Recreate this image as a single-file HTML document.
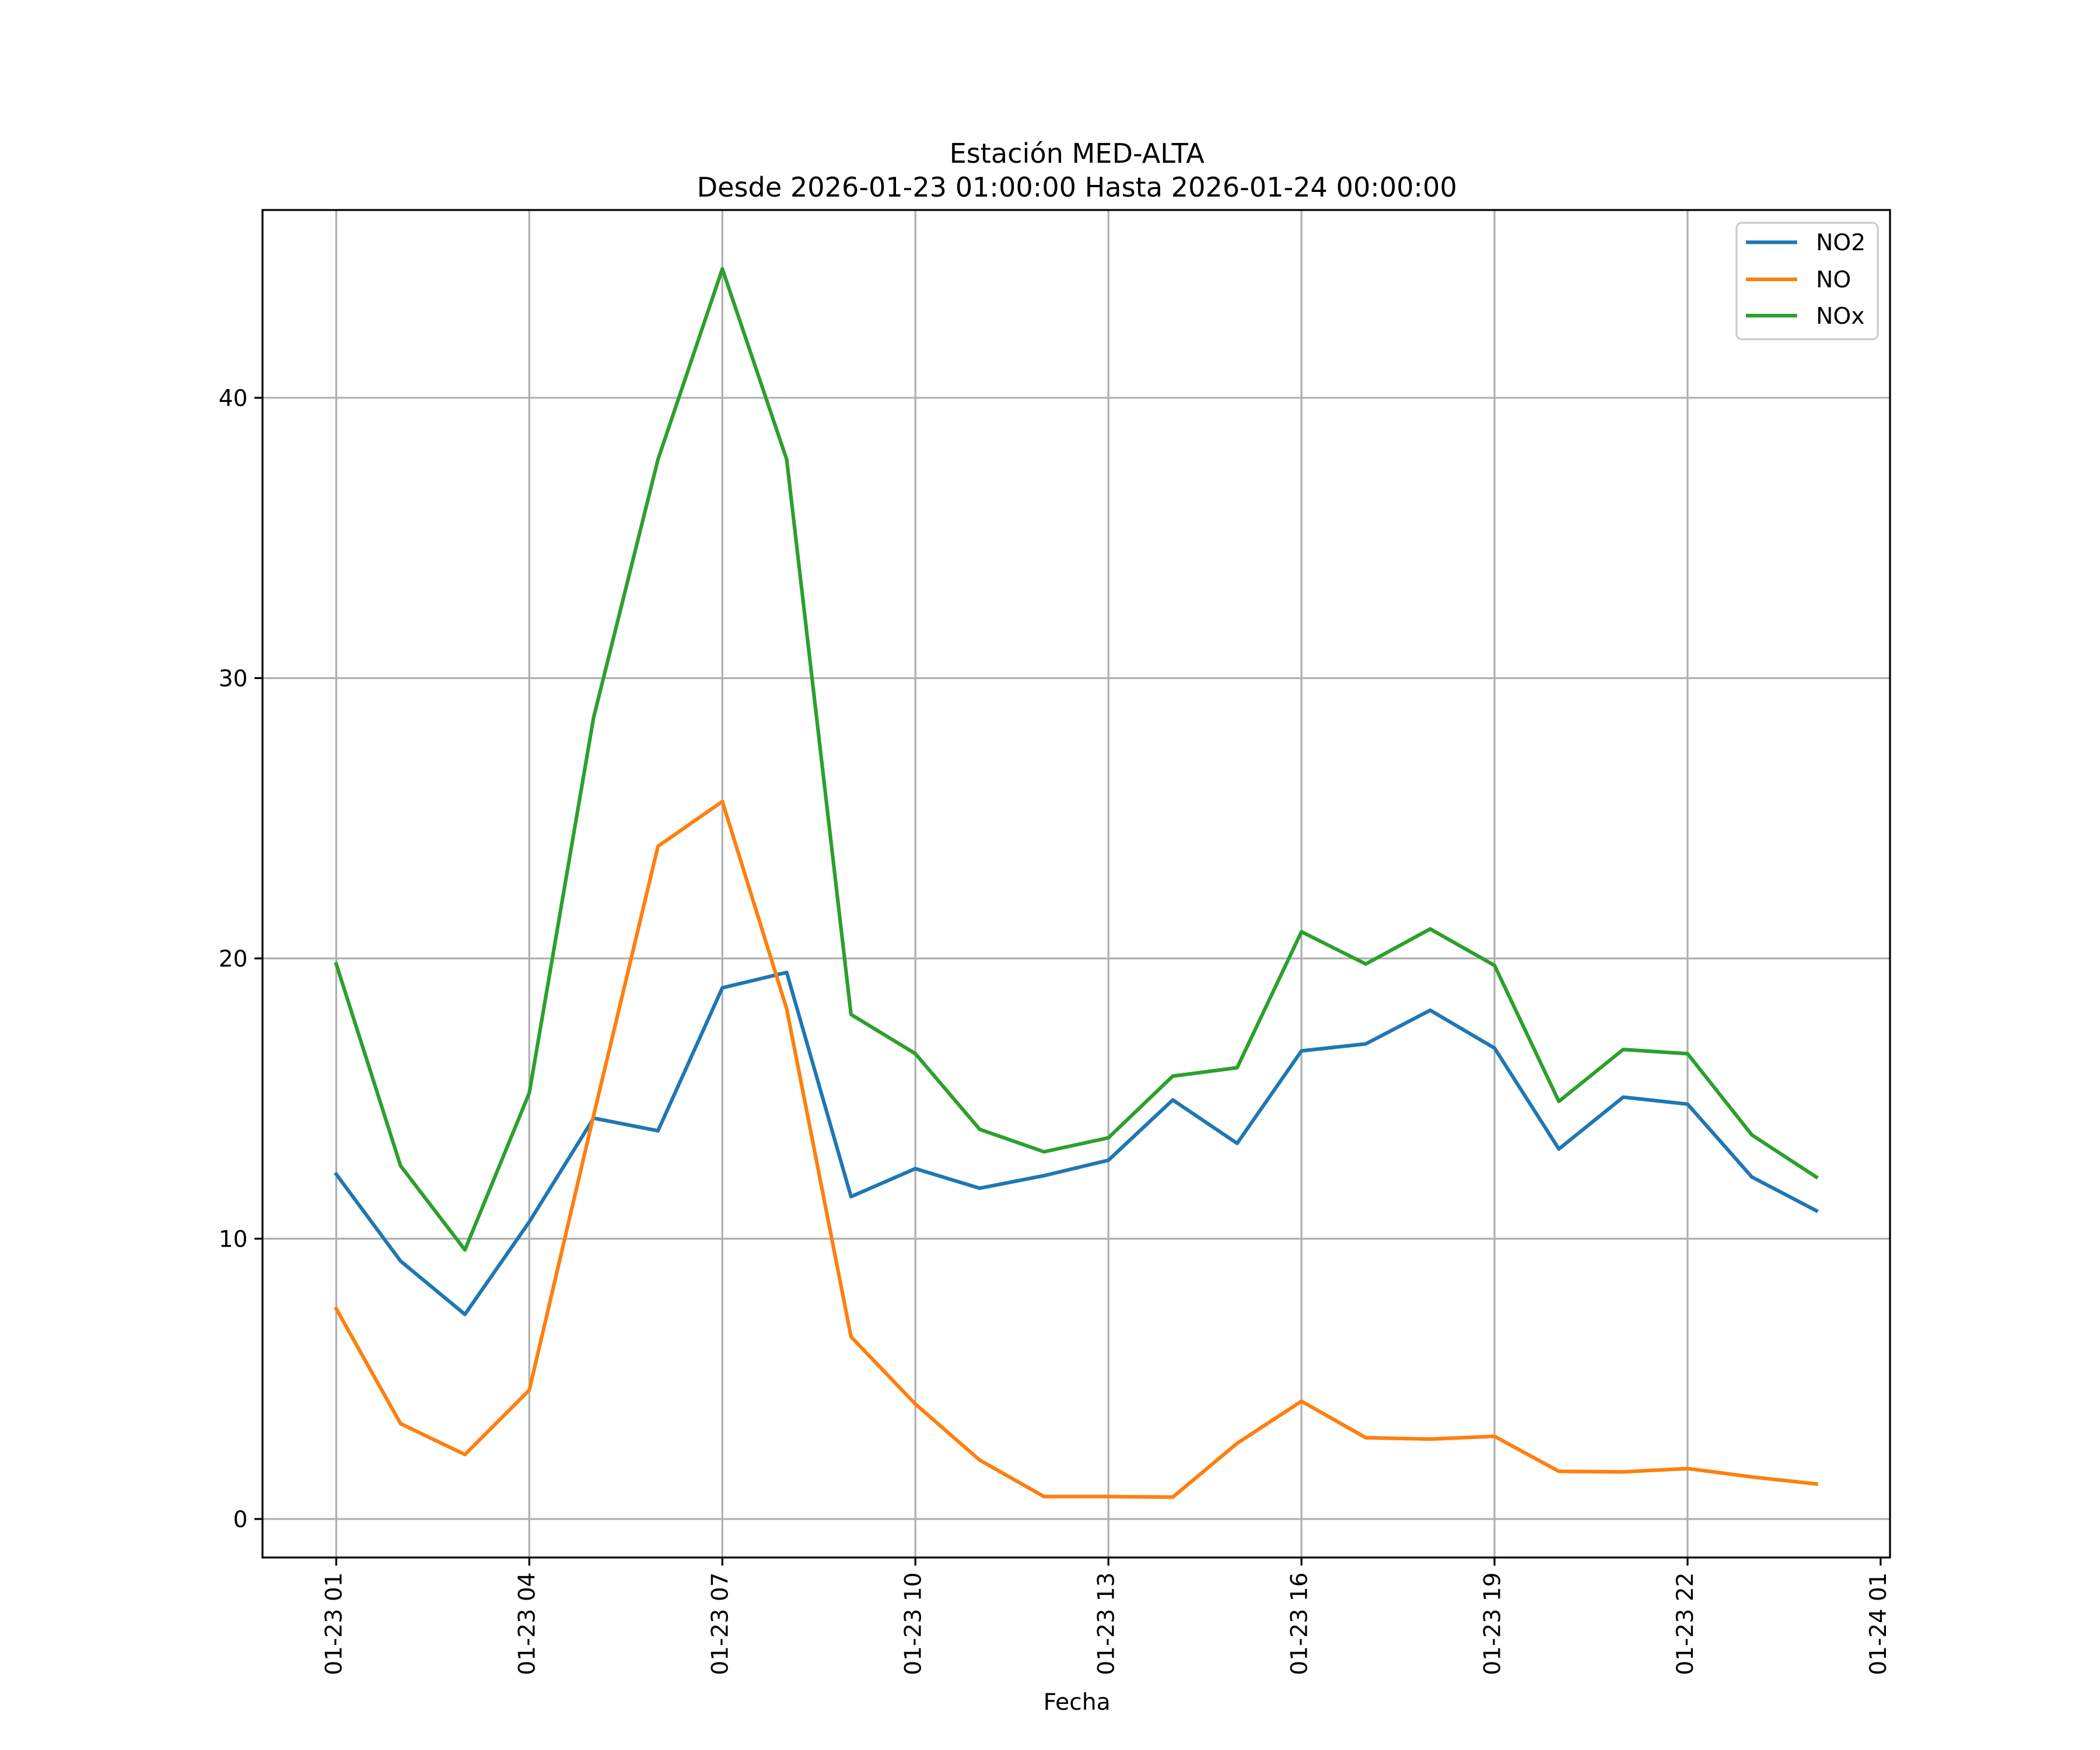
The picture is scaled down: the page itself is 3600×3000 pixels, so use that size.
<!DOCTYPE html>
<html><head><meta charset="utf-8"><style>
html,body{margin:0;padding:0;background:#fff;}
svg{display:block;font-family:"DejaVu Sans","Liberation Sans",sans-serif;}
</style></head><body>
<svg id="chart" width="3600" height="3000" viewBox="0 0 1560 1300" xmlns="http://www.w3.org/2000/svg">
<rect width="1560" height="1300" fill="#fff"/>
<text x="800" y="121" font-size="20" text-anchor="middle">Estación MED-ALTA</text>
<text x="800" y="146" font-size="20" text-anchor="middle">Desde 2026-01-23 01:00:00 Hasta 2026-01-24 00:00:00</text>
<g id="grid"></g>
<g id="series"></g>
<rect x="195" y="156" width="1209" height="1001" fill="none" stroke="#000" stroke-width="1.4"/>
<g id="ticks"></g>
<text x="800" y="1270" font-size="17" text-anchor="middle">Fecha</text>
<g>
<rect x="1290" y="165.5" width="105" height="86.5" rx="4" fill="#fff" fill-opacity="0.8" stroke="#ccc" stroke-width="1.4"/>
<line x1="1297" y1="180" x2="1335" y2="180" stroke="#1f77b4" stroke-width="2.7"/>
<text x="1349" y="186" font-size="17">NO2</text>
<line x1="1297" y1="207.5" x2="1335" y2="207.5" stroke="#ff7f0e" stroke-width="2.7"/>
<text x="1349" y="213.5" font-size="17">NO</text>
<line x1="1297" y1="234.5" x2="1335" y2="234.5" stroke="#2ca02c" stroke-width="2.7"/>
<text x="1349" y="240.5" font-size="17">NOx</text>
</g>
</svg>
<script>
const xTickLabels = ["01-23 01","01-23 04","01-23 07","01-23 10","01-23 13","01-23 16","01-23 19","01-23 22","01-24 01"];
const yTickValues = [0,10,20,30,40];
const no2 = [12.3,9.2,7.3,10.6,14.3,13.85,18.95,19.5,11.5,12.5,11.8,12.25,12.8,14.95,13.4,16.7,16.95,18.15,16.8,13.2,15.05,14.8,12.2,11.0];
const no = [7.5,3.4,2.3,4.6,14.4,24.0,25.6,18.2,6.5,4.1,2.1,0.8,0.8,0.78,2.7,4.2,2.9,2.85,2.95,1.7,1.68,1.8,1.5,1.25];
const nox = [19.8,12.6,9.6,15.2,28.6,37.8,44.6,37.8,18.0,16.6,13.9,13.1,13.6,15.8,16.1,20.95,19.8,21.05,19.75,14.9,16.75,16.6,13.7,12.2];

const NS="http://www.w3.org/2000/svg";
const L=195,R=1404,T=156,B=1157;
const xMin=-1.146,xMax=24.146,yMin=-1.374,yMax=46.70;
const xs=i=>L+(i-xMin)/(xMax-xMin)*(R-L);
const ys=v=>B-(v-yMin)/(yMax-yMin)*(B-T);
function mk(tag,attrs,parent){const e=document.createElementNS(NS,tag);for(const k in attrs)e.setAttribute(k,attrs[k]);parent.appendChild(e);return e;}
const grid=document.getElementById('grid'),ticks=document.getElementById('ticks'),series=document.getElementById('series');
xTickLabels.forEach((lab,j)=>{
  const x=xs(j*3);
  if(j<xTickLabels.length-1){
    const g=mk('line',{x1:x,x2:x,y1:T,y2:B,stroke:'#b0b0b0','stroke-width':1.4},grid);
    
    
  }
  const t=mk('line',{x1:x,x2:x,y1:B,y2:B+6,stroke:'#000','stroke-width':1.4},ticks);
  
  
  const tx=mk('text',{x:0,y:0,'font-size':17,'text-anchor':'end',transform:`translate(${x+4},${B+11}) rotate(-90)`},ticks);
  tx.textContent=lab;
  
  
});
yTickValues.forEach(v=>{
  const y=ys(v);
  const g=mk('line',{x1:L,x2:R,y1:y,y2:y,stroke:'#b0b0b0','stroke-width':1.4},grid);
  
  
  const t=mk('line',{x1:L-6,x2:L,y1:y,y2:y,stroke:'#000','stroke-width':1.4},ticks);
  
  
  const tx=mk('text',{x:L-11,y:y+6,'font-size':17,'text-anchor':'end'},ticks);
  tx.textContent=String(v);
  
  
});
[[no2,'#1f77b4','line-no2'],[no,'#ff7f0e','line-no'],[nox,'#2ca02c','line-nox']].forEach(([d,c,n])=>{
  const p=mk('polyline',{points:d.map((v,i)=>xs(i)+','+ys(v)).join(' '),fill:'none',stroke:c,'stroke-width':2.7,'stroke-linejoin':'round','stroke-linecap':'square'},series);
  
  
});
</script>
</body></html>
